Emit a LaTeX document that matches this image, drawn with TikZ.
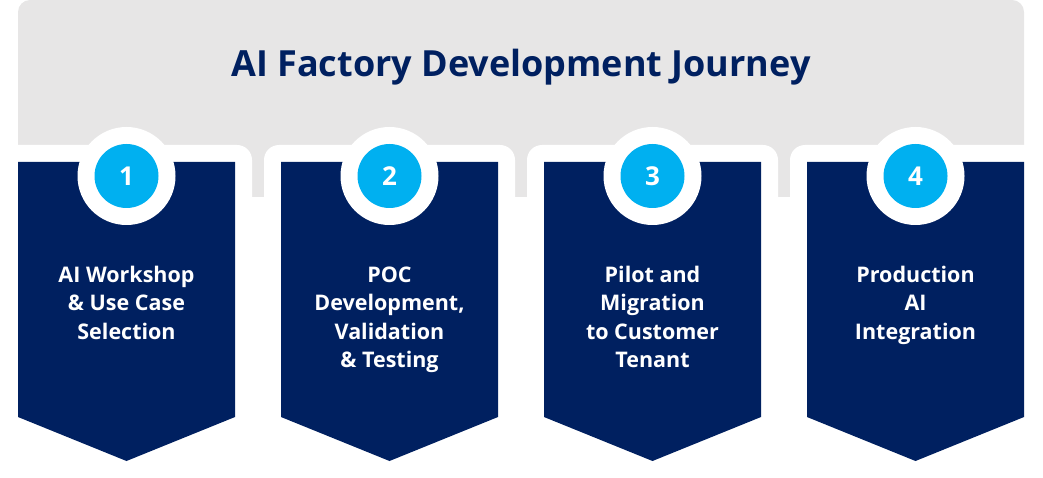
\documentclass[tikz,border=0pt]{standalone}
\usepackage{fontspec}
\setmainfont{Open Sans}
\definecolor{navy}{HTML}{002060}
\definecolor{cyanb}{HTML}{00B0F0}
\definecolor{bggray}{HTML}{E7E6E6}
\begin{document}
\begin{tikzpicture}[x=1pt,y=-1pt,
  banner/.style={fill=bggray, rounded corners=12pt},
  frame/.style={fill=white, rounded corners=15pt},
  stage/.style={fill=navy},
  ring/.style={circle, fill=white, minimum size=98pt, inner sep=0pt},
  badge/.style={circle, fill=cyanb, minimum size=64pt, inner sep=0pt},
  num/.style={text=white, font=\bfseries\fontsize{26}{30}\selectfont, inner sep=0pt, anchor=base},
  label/.style={text=white, font=\bfseries\fontsize{21.5}{28.5}\selectfont, align=center, inner sep=0pt, anchor=north},
  title/.style={text=navy, font=\bfseries\fontsize{36}{40}\selectfont, inner sep=0pt, anchor=base}
]
\useasboundingbox (0,0) rectangle (1043,478);
\fill[banner] (18,0) rectangle (1024,197);
\node[title] (t) at (521,77) {AI Factory Development Journey};
\foreach \i/\txt in {0/{AI Workshop\\\& Use Case\\Selection},
                     1/{POC\\Development,\\Validation\\\& Testing},
                     2/{Pilot and\\Migration\\to Customer\\Tenant},
                     3/{Production\\AI\\Integration}}{
  \pgfmathsetmacro{\xa}{18+263*\i}
  \pgfmathsetmacro{\xb}{\xa+217}
  \pgfmathsetmacro{\xc}{\xa+108.5}
  \fill[frame] (\xa-17,145) rectangle (\xb+17,478);
  \fill[stage] (\xa,162) -- (\xb,162) -- (\xb,417) -- (\xc,461) -- (\xa,417) -- cycle;
  \node[ring] (r\i) at (\xc,176) {};
  \node[badge] (b\i) at (\xc,176) {};
  \pgfmathtruncatemacro{\n}{\i+1}
  \node[num] (n\i) at (\xc,186) {\n};
  \node[label] (l\i) at (\xc,265) {\rule{0pt}{17pt}\txt};
}
\end{tikzpicture}
\end{document}
